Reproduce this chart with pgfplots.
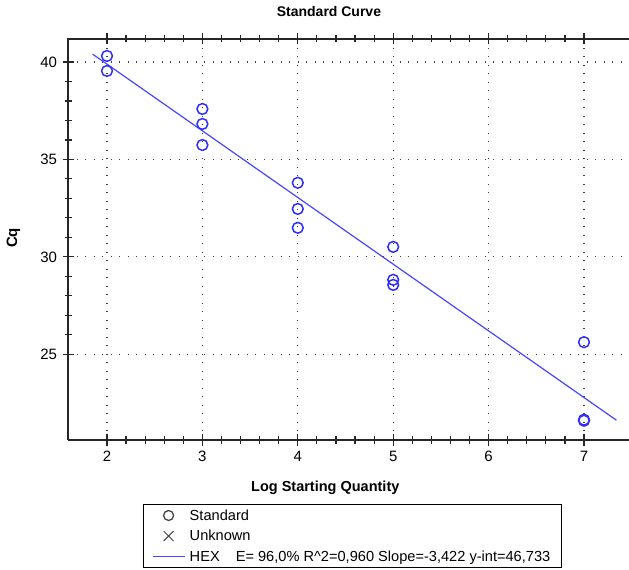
\documentclass[border=0pt]{standalone}
\usepackage{pgfplots}
\pgfplotsset{compat=1.18}
\usepackage{fontspec}
\setmainfont{Liberation Sans}
\definecolor{ptblue}{RGB}{45,45,255}
\definecolor{lnblue}{RGB}{70,70,255}
\definecolor{lgray}{RGB}{70,70,70}
\pgfplotsset{
  legmark/.style={legend image code/.code={\draw[##1] plot coordinates {(15.5pt,0pt)};}},
  legline/.style={legend image code/.code={\draw[##1] (0pt,0pt) -- (32pt,0pt);}},
  frame/.style={at={(68pt,130pt)}, anchor=south west,
    scale only axis, width=563pt, height=401pt,
    xmin=1.5912, xmax=7.4927, ymin=20.6, ymax=41.18,
    xtick={2,3,4,5,6,7}, ytick={25,30,35,40}},
}
\begin{document}
\begin{tikzpicture}
\useasboundingbox (0pt,0pt) rectangle (629pt,570pt);
% grid only
\begin{axis}[frame,
  axis line style={draw=none},
  major tick length=0pt, xticklabels={}, yticklabels={},
  xmajorgrids, ymajorgrids,
  major grid style={black!75, line width=1.3pt, dash pattern=on 1.3pt off 7.2pt},
]
\addplot[draw=none, forget plot] coordinates {(2,30)};
\end{axis}
% frame, ticks, data, legend
\begin{axis}[frame,
  axis line style={line width=1.4pt, black!85, dash pattern=on 40pt off 0pt},
  minor x tick num=4, minor y tick num=4,
  ytick pos=left, xtick pos=both,
  tick align=center,
  major tick length=11pt, minor tick length=7pt,
  major tick style={dash pattern=on 40pt off 0pt, black!85, line width=1.2pt},
  minor tick style={dash pattern=on 40pt off 0pt, black!85, line width=1.2pt},
  /pgf/number format/assume math mode=true,
  tick label style={font=\fontsize{15}{17}\selectfont},
  xticklabel style={yshift=-2pt},
  yticklabel style={xshift=-2pt},
  title={\textbf{Standard Curve}},
  title style={at={(axis description cs:0.4635,1)}, anchor=center, yshift=21pt, font=\fontsize{14}{16}\selectfont},
  xlabel={\textbf{Log Starting Quantity}},
  xlabel style={at={(axis description cs:0.457,0)}, anchor=center, yshift=-48pt, font=\fontsize{14.5}{16}\selectfont},
  ylabel={\textbf{Cq}},
  ylabel style={at={(axis description cs:-0.097,0.504)}, anchor=center, font=\fontsize{15}{17}\selectfont},
  legend style={at={(axis description cs:0.1332,-0.1596)}, anchor=north west, draw=black, line width=0.9pt,
    font=\fontsize{14.6}{16}\selectfont, row sep=4.5pt, inner xsep=9pt, inner ysep=3pt},
  legend cell align=left,
]
\addplot[only marks, mark=o, mark size=5.4pt, ptblue, line width=1.5pt, forget plot] coordinates {
  (2,40.31) (2,39.54)
  (3,37.59) (3,36.82) (3,35.74)
  (4,33.80) (4,32.46) (4,31.49)
  (5,30.51) (5,28.82) (5,28.56)
  (7,25.62) (7,21.64) (7,21.59)
};
\addplot[lnblue, line width=1.2pt, forget plot] coordinates {(1.85,40.402) (7.34,21.616)};
\addlegendimage{only marks, mark=o, mark size=5pt, lgray, line width=1.3pt, legmark}
\addlegendentry{\hspace{2pt}Standard}
\addlegendimage{only marks, mark=x, mark size=7pt, lgray, line width=1pt, legmark}
\addlegendentry{\hspace{2pt}Unknown}
\addlegendimage{lnblue, line width=1.3pt, legline}
\addlegendentry{\hspace{2pt}HEX\hspace{1.1em}E= 96,0\% R\textasciicircum 2=0,960 Slope=-3,422 y-int=46,733}
\end{axis}
\end{tikzpicture}
\end{document}
